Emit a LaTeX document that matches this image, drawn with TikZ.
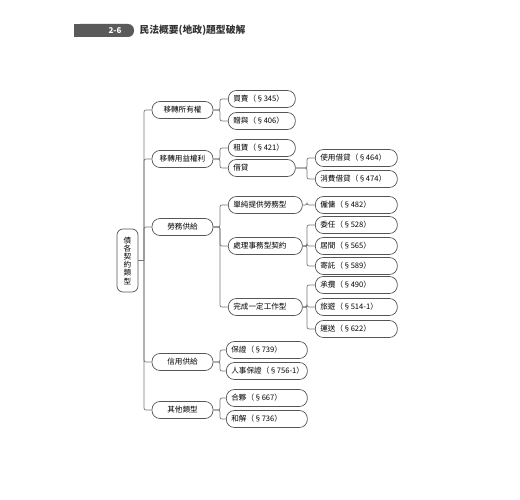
\documentclass[tikz,border=0pt]{standalone}
\usepackage{fontspec}
\setmainfont{Noto Sans CJK TC}
\definecolor{boxgray}{HTML}{555555}
\definecolor{linegray}{HTML}{777777}
\definecolor{tabgray}{HTML}{5A5A5A}
\begin{document}
\begin{tikzpicture}[x=1pt, y=-1pt,
    every node/.style={font=\fontsize{7.6}{8.2}\selectfont, text=black},
    % estilos
    rootbox/.style={
        draw=boxgray, line width=0.7pt, rounded corners=6pt,
        minimum width=21pt, minimum height=63pt, inner sep=1pt, align=center
    },
    cat/.style={
        draw=boxgray, line width=0.7pt, rounded corners=8pt,
        minimum width=61pt, minimum height=17pt, inner sep=0pt
    },
    leaf/.style={
        draw=boxgray, line width=0.7pt, rounded corners=8pt, anchor=west,
        text width=#1, minimum height=17pt, inner xsep=5pt, inner ysep=0pt,
        align=left
    },
    conn/.style={
        draw=linegray, line width=0.7pt, rounded corners=2pt
    }
]
\useasboundingbox (0,0) rectangle (520,500);

% =============================================
% CABECERA
% =============================================
\fill[tabgray, rounded corners=6pt] (74,24) rectangle (134,37);
\fill[tabgray] (74,24) rectangle (100,37);
\node[text=white, font=\fontsize{8}{9}\selectfont\bfseries] (page) at (115,30.5) {2-6};
\node[anchor=west, text=black!80, font=\fontsize{9.8}{10}\selectfont\bfseries] (title) at (136,30.5) {民法概要(地政)題型破解};

% =============================================
% BUSES
% =============================================
\coordinate (trunk) at (144,0);
\coordinate (busA)  at (220,0);
\coordinate (busB)  at (307,0);

% =============================================
% RAIZ
% =============================================
\node[rootbox] (root) at (127.5,260.5) {債\\各\\契\\約\\類\\型};

% =============================================
% NIVEL 1
% =============================================
\node[cat] (own)    at (182.5,110) {移轉所有權};
\node[cat] (use)    at (182.5,159) {移轉用益權利};
\node[cat] (labor)  at (182.5,227) {勞務供給};
\node[cat] (credit) at (182.5,362) {信用供給};
\node[cat] (other)  at (182.5,410) {其他類型};

\draw[conn] (root.east) -- (root.east -| trunk);
\foreach \c in {own, use, labor, credit, other}
    \draw[conn] (root.east -| trunk) |- (\c.west);

% =============================================
% NIVEL 2
% =============================================
\node[leaf=57pt] (sale)    at (228,99)  {買賣（§345）};
\node[leaf=57pt] (gift)    at (228,121) {贈與（§406）};
\node[leaf=57pt] (lease)   at (228,148) {租賃（§421）};
\node[leaf=57pt] (loan)    at (228,168) {借貸};
\node[leaf=64pt] (simple)  at (228,205) {單純提供勞務型};
\node[leaf=64pt] (affair)  at (228,246) {處理事務型契約};
\node[leaf=64pt] (work)    at (228,307) {完成一定工作型};
\node[leaf=71pt] (guar)    at (226,350) {保證（§739）};
\node[leaf=71pt] (pguar)   at (226,371) {\mbox{人事保證（§756-1）}};
\node[leaf=71pt] (partner) at (226,398) {合夥（§667）};
\node[leaf=71pt] (settle)  at (226,419) {和解（§736）};

\foreach \p/\c in {own/sale, own/gift, use/lease, use/loan,
                   labor/simple, labor/affair, labor/work,
                   credit/guar, credit/pguar, other/partner, other/settle}
    \draw[conn] (\p.east) -- (\p.east -| busA) |- (\c.west);

% =============================================
% NIVEL 3
% =============================================
\node[leaf=72pt] (useloan)  at (315,158) {使用借貸（§464）};
\node[leaf=72pt] (consloan) at (315,179) {消費借貸（§474）};
\node[leaf=72pt] (employ)   at (315,205) {僱傭（§482）};
\node[leaf=72pt] (mandate)  at (315,225) {委任（§528）};
\node[leaf=72pt] (broker)   at (315,246) {居間（§565）};
\node[leaf=72pt] (deposit)  at (315,266) {寄託（§589）};
\node[leaf=72pt] (contract) at (315,285) {承攬（§490）};
\node[leaf=72pt] (travel)   at (315,307) {\mbox{旅遊（§514-1）}};
\node[leaf=72pt] (carry)    at (315,329) {運送（§622）};

\foreach \p/\c in {loan/useloan, loan/consloan, simple/employ,
                   affair/mandate, affair/broker, affair/deposit,
                   work/contract, work/travel, work/carry}
    \draw[conn] (\p.east) -- (\p.east -| busB) |- (\c.west);

\end{tikzpicture}
\end{document}
